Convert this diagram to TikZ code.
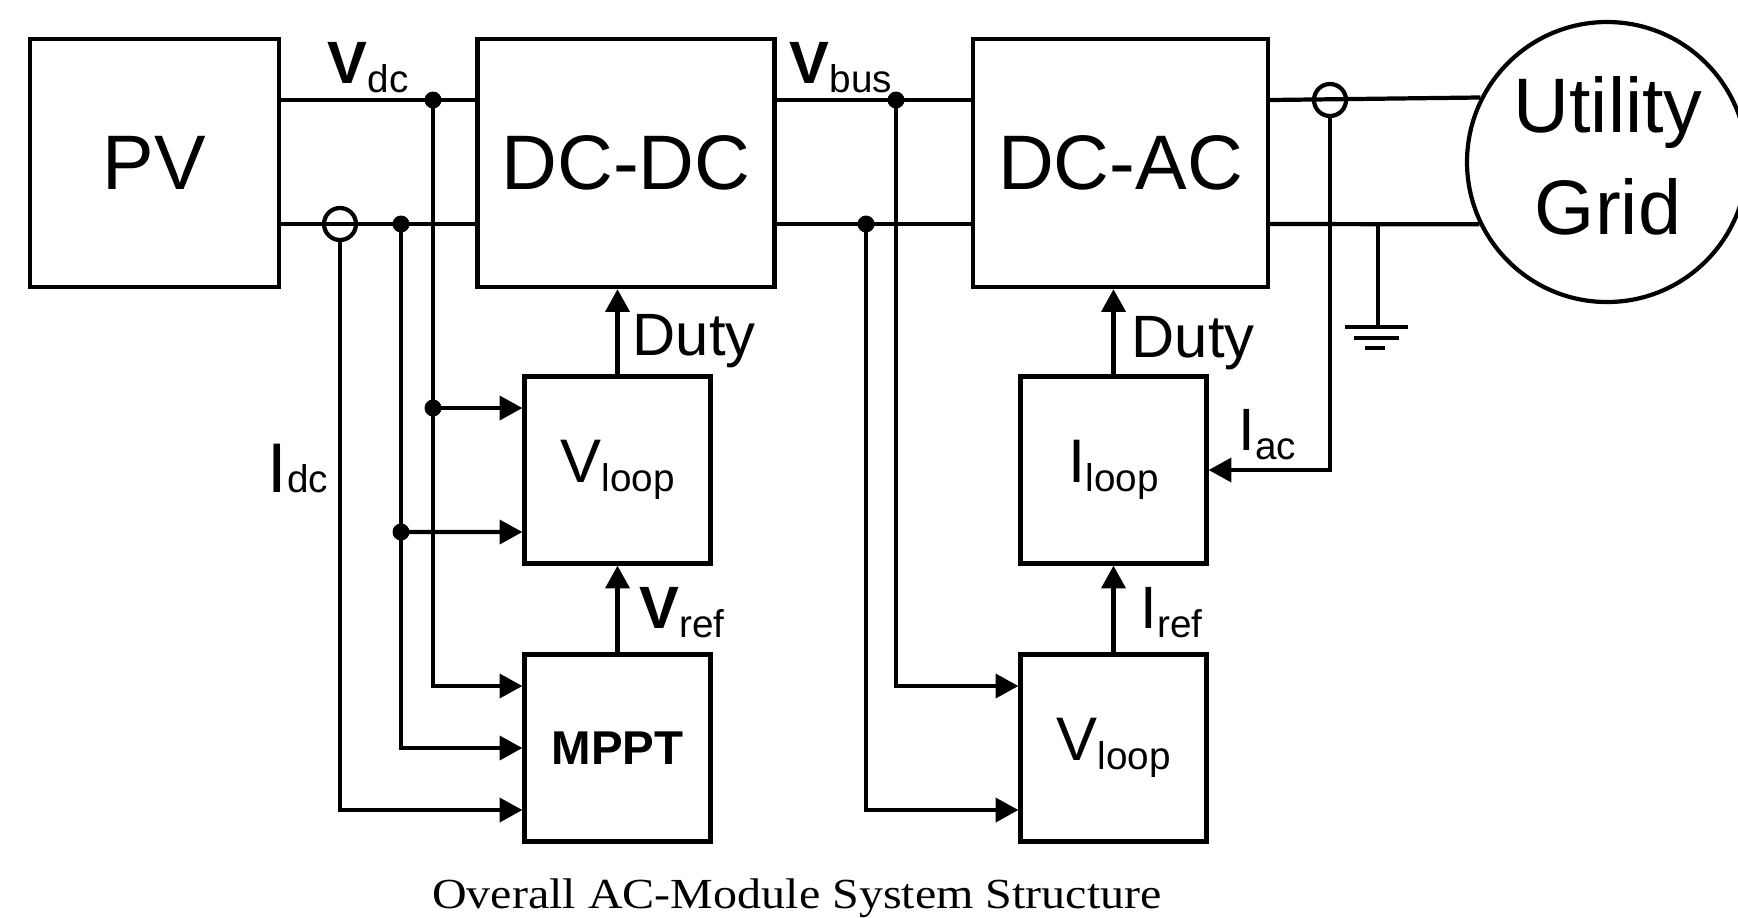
\documentclass[tikz,border=0pt]{standalone}
\usepackage{fontspec}
\setmainfont{Liberation Sans}
\newfontfamily\capfont{Liberation Serif}
\usetikzlibrary{arrows.meta}

\newcommand{\lowtxt}[1]{\raisebox{-2.7pt}{\fontsize{11}{11}\selectfont\mdseries #1}}

\tikzset{
  wire/.style={line width=1.2pt},
  sig/.style={line width=1.2pt, -{Triangle[length=6.5pt,width=6.8pt]}},
  bigblk/.style={draw, line width=1.2pt, minimum height=2.48cm, inner sep=0, font=\fontsize{22}{26}\selectfont},
  blk/.style={draw, line width=1.2pt, minimum width=1.86cm, minimum height=1.87cm, inner sep=0, font=\fontsize{17.5}{20}\selectfont},
  dot/.style={circle, fill, inner sep=0, minimum size=0.17cm},
  sens/.style={circle, draw, line width=1.2pt, inner sep=0, minimum size=0.32cm},
  lbl/.style={inner sep=0, anchor=base west, font=\fontsize{17}{20}\selectfont},
}

\begin{document}
\begin{tikzpicture}
    \useasboundingbox (0,0) rectangle (17.38,-9.17);
    % blocks
    \node [bigblk, minimum width=2.49cm] (pv) at (1.545,-1.63) {PV};
    \node [bigblk, minimum width=2.97cm] (dcdc) at (6.26,-1.63) {DC-DC};
    \node [bigblk, minimum width=2.95cm] (dcac) at (11.205,-1.63) {DC-AC};
    \node [draw, circle, line width=1.2pt, minimum size=2.80cm, inner sep=0] (grid) at (16.07,-1.62) {};
    \node [align=center, font=\fontsize{22}{28.9}\selectfont] (gridtxt) at (16.08,-1.56) {Utility\\Grid};
    \node [blk] (vloopA) at (6.175,-4.70) {V\lowtxt{loop}};
    \node [blk, font=\bfseries\fontsize{13.5}{16}\selectfont] (mppt) at (6.175,-7.48) {MPPT};
    \node [blk] (iloop) at (11.135,-4.70) {I\lowtxt{loop}};
    \node [blk] (vloopB) at (11.135,-7.48) {V\lowtxt{loop}};
    % power lines
    \coordinate (topw) at (0,-1.00);
    \coordinate (botw) at (0,-2.24);
    \draw [wire] (pv.east |- topw) -- (dcdc.west |- topw);
    \draw [wire] (pv.east |- botw) -- (dcdc.west |- botw);
    \draw [wire] (dcdc.east |- topw) -- (dcac.west |- topw);
    \draw [wire] (dcdc.east |- botw) -- (dcac.west |- botw);
    \draw [wire] (dcac.east |- topw) -- (grid.153.7);
    \draw [wire] (dcac.east |- botw) -- (grid.206.3);
    \node [sens] (sensA) at (3.40,-2.24) {};
    \node [sens] (sensB) at (13.30,-1.00) {};
    \node [dot] (jA) at (4.33,-1.00) {};
    \node [dot] (jB) at (4.01,-2.24) {};
    \node [dot] (jC) at (4.33,-4.08) {};
    \node [dot] (jD) at (4.01,-5.32) {};
    \node [dot] (jE) at (8.96,-1.00) {};
    \node [dot] (jF) at (8.66,-2.24) {};
    % ground
    \coordinate (gnd) at (13.78,-2.24);
    \draw [wire] (gnd) -- ++(0,-1.03);
    \draw [wire] (13.45,-3.27) -- (14.08,-3.27);
    \draw [wire] (13.54,-3.38) -- (13.99,-3.38);
    \draw [wire] (13.65,-3.48) -- (13.85,-3.48);
    % sensing
    \draw [sig] (jA.center) |- ([yshift=0.62cm]mppt.west);
    \draw [sig] (jC.center) -- ([yshift=0.62cm]vloopA.west);
    \draw [sig] (jB.center) |- (mppt.west);
    \draw [sig] (jD.center) -- ([yshift=-0.62cm]vloopA.west);
    \draw [sig] (sensA.south) |- ([yshift=-0.62cm]mppt.west);
    \draw [sig] (jE.center) |- ([yshift=0.62cm]vloopB.west);
    \draw [sig] (jF.center) |- ([yshift=-0.62cm]vloopB.west);
    \draw [sig] (sensB.south) |- (iloop.east);
    % control
    \draw [sig] (mppt) -- (vloopA);
    \draw [sig] (vloopA.north) -- (vloopA.north |- dcdc.south);
    \draw [sig] (vloopB) -- (iloop);
    \draw [sig] (iloop.north) -- (iloop.north |- dcac.south);
    % lecter
    \node [lbl] (vdc) at (3.27,-0.83) {\textbf{V}\lowtxt{dc}};
    \node [lbl] (vbus) at (7.89,-0.83) {\textbf{V}\lowtxt{bus}};
    \node [lbl] (idc) at (2.67,-4.92) {{\fontsize{20}{22}\selectfont I}\lowtxt{\raisebox{2.7pt}{dc}}};
    \node [lbl] (vref) at (6.39,-6.28) {\textbf{V}\lowtxt{ref}};
    \node [lbl] (iref) at (11.40,-6.28) {I\lowtxt{ref}};
    \node [lbl] (iac) at (12.38,-4.50) {I\lowtxt{ac}};
    \node [lbl] (dutyA) at (6.32,-3.55) {Duty};
    \node [lbl] (dutyB) at (11.31,-3.57) {Duty};
    \node [anchor=base, inner sep=0, font=\capfont\fontsize{12.2}{14}\selectfont] (caption) at (7.97,-9.08) {\scalebox{1.12}[1]{Overall AC-Module System Structure}};
\end{tikzpicture}
\end{document}
